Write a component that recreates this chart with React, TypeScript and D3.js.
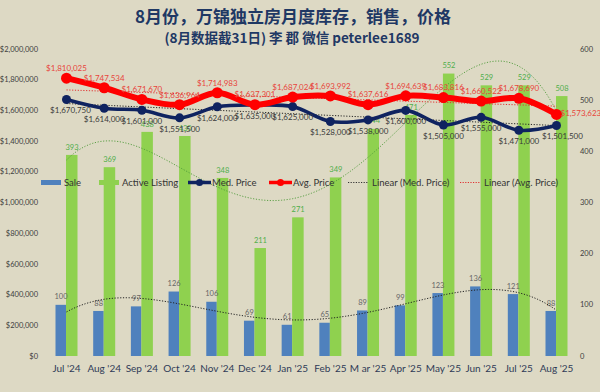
import React from "react";
import * as d3 from "d3";

const months = ["Jul '24", "Aug '24", "Sep '24", "Oct '24", "Nov '24", "Dec '24", "Jan '25", "Feb '25", "M ar '25", "Apr '25", "May '25", "Jun '25", "Jul '25", "Aug '25"];
const sales = [100, 88, 97, 126, 106, 69, 61, 65, 89, 99, 123, 136, 121, 88];
const activeListing = [393, 369, 438, 430, 348, 211, 271, 349, 444, 471, 552, 529, 529, 508];
const medPrice = [1670750, 1614000, 1601000, 1551500, 1624000, 1635000, 1625000, 1528000, 1538000, 1600000, 1505000, 1555000, 1471000, 1501500];
const avgPrice = [1810025, 1747534, 1671670, 1636964, 1714983, 1637301, 1687024, 1693992, 1637616, 1694639, 1683816, 1660522, 1678690, 1573623];
const leftTicks = [0, 200000, 400000, 600000, 800000, 1000000, 1200000, 1400000, 1600000, 1800000, 2000000];
const rightTicks = [0, 100, 200, 300, 400, 500, 600];

const W = 600, H = 392;
const BG = "#ddd9c4";
const BLUE = "#4f81bd";
const GREEN = "#8fd14f";
const NAVY = "#0f2360";
const RED = "#ff0000";
const FONT = "Lato, 'Open Sans', sans-serif";

function polyFit(ys: number[], deg: number) {
  const n = ys.length;
  const xs = ys.map((_, i) => (i - (n - 1) / 2) / ((n - 1) / 2));
  const m = deg + 1;
  const A: number[][] = Array.from({ length: m }, () => new Array(m + 1).fill(0));
  for (let r = 0; r < m; r++) {
    for (let c = 0; c < m; c++) {
      A[r][c] = xs.reduce((s, x) => s + Math.pow(x, r + c), 0);
    }
    A[r][m] = xs.reduce((s, x, i) => s + Math.pow(x, r) * ys[i], 0);
  }
  for (let i = 0; i < m; i++) {
    let p = i;
    for (let k = i + 1; k < m; k++) if (Math.abs(A[k][i]) > Math.abs(A[p][i])) p = k;
    [A[i], A[p]] = [A[p], A[i]];
    for (let k = i + 1; k < m; k++) {
      const f = A[k][i] / A[i][i];
      for (let j = i; j <= m; j++) A[k][j] -= f * A[i][j];
    }
  }
  const coef = new Array(m).fill(0);
  for (let i = m - 1; i >= 0; i--) {
    let s = A[i][m];
    for (let j = i + 1; j < m; j++) s -= A[i][j] * coef[j];
    coef[i] = s / A[i][i];
  }
  return (t: number) => {
    const x = (t - (n - 1) / 2) / ((n - 1) / 2);
    return coef.reduce((s, c, k) => s + c * Math.pow(x, k), 0);
  };
}

const fmt = (v: number) => "$" + d3.format(",")(v);

export default function App() {
  const x = d3.scalePoint<string>().domain(months).range([66.5, 556.5]);
  const yL = d3.scaleLinear().domain([0, 2000000]).range([356, 49]);
  const yR = d3.scaleLinear().domain([0, 600]).range([356, 49]);
  const bw = 11;

  const curve = d3.curveCatmullRom.alpha(0.5);
  const medLine = d3.line<number>().x((_, i) => x(months[i])!).y((d) => yL(d)).curve(curve);
  const avgLine = d3.line<number>().x((_, i) => x(months[i])!).y((d) => yL(d)).curve(curve);

  const samples = d3.range(0, months.length - 1 + 0.001, 0.1);
  const idxX = d3.scaleLinear().domain([0, months.length - 1]).range([66.5, 556.5]);
  const medLin = polyFit(medPrice, 1);
  const avgLin = polyFit(avgPrice, 1);
  const actPoly = polyFit(activeListing, 4);
  const salePoly = polyFit(sales, 4);
  const trend = (f: (t: number) => number, ys: d3.ScaleLinear<number, number>) =>
    d3.line<number>().x((t) => idxX(t)).y((t) => ys(f(t)))(samples) || "";

  const legend = [
    { kind: "rect", color: BLUE, x: 41, label: "Sale" },
    { kind: "rect", color: GREEN, x: 99, label: "Active Listing" },
    { kind: "marker", color: NAVY, x: 188, label: "Med. Price" },
    { kind: "marker", color: RED, x: 269, label: "Avg. Price" },
    { kind: "dot", color: "#333", x: 348, label: "Linear (Med. Price)" },
    { kind: "dot", color: "#e03030", x: 460, label: "Linear (Avg. Price)" },
  ];

  return (
    <svg width={W} height={H} style={{ position: "absolute", left: 0, top: 0 }} fontFamily={FONT}>
      <rect width={W} height={H} fill={BG} />
      <text x={293} y={23} textAnchor="middle" fontSize={17} fontWeight="bold" fill="#1f3864" fontFamily="'Noto Sans CJK SC', sans-serif">
        8月份，万锦独立房月度库存，销售，价格
      </text>
      <text x={292} y={43} textAnchor="middle" fontSize={13.5} fontWeight="bold" fill="#1f3864" fontFamily="'Noto Sans CJK SC', sans-serif">
        (8月数据截31日) 李 郡 微信 peterlee1689
      </text>

      {leftTicks.map((t) => (
        <text key={t} x={38} y={yL(t)} dy="0.35em" textAnchor="end" fontSize={7.5} fill="#404040">
          {fmt(t)}
        </text>
      ))}
      {rightTicks.map((t) => (
        <text key={t} x={580} y={yR(t)} dy="0.35em" textAnchor="start" fontSize={7.5} fill="#404040">
          {t}
        </text>
      ))}
      {months.map((m) => (
        <text key={m} x={x(m)!} y={372} textAnchor="middle" fontSize={10} fill="#2f3b57">
          {m}
        </text>
      ))}

      {sales.map((v, i) => (
        <rect key={"s" + i} x={x(months[i])! - bw} y={yR(v)} width={bw - 0.5} height={yR(0) - yR(v)} fill={BLUE} />
      ))}
      {activeListing.map((v, i) => (
        <rect key={"a" + i} x={x(months[i])! - 0.5} y={yR(v)} width={bw + 0.5} height={yR(0) - yR(v)} fill={GREEN} />
      ))}
      {sales.map((v, i) => (
        <text key={"sl" + i} x={x(months[i])! - bw / 2} y={yR(v) - 8} dy="0.35em" textAnchor="middle" fontSize={7.5} fill="#666">
          {v}
        </text>
      ))}
      {activeListing.map((v, i) => (
        <text key={"al" + i} x={x(months[i])! + bw / 2} y={yR(v) - 8} dy="0.35em" textAnchor="middle" fontSize={7.5} fill="#4fae4a">
          {v}
        </text>
      ))}

      <path d={trend(actPoly, yR)} fill="none" stroke="#4f9a3a" strokeWidth={0.9} strokeDasharray="1.2 1.6" />
      <path d={trend(salePoly, yR)} fill="none" stroke="#222" strokeWidth={1} strokeDasharray="1.2 1.6" />
      <path d={trend(medLin, yL)} fill="none" stroke="#222" strokeWidth={1} strokeDasharray="1.2 1.6" />
      <path d={trend(avgLin, yL)} fill="none" stroke="#e03030" strokeWidth={1} strokeDasharray="1.2 1.6" />

      <path d={medLine(medPrice) || ""} fill="none" stroke={NAVY} strokeWidth={3.6} />
      {medPrice.map((v, i) => (
        <circle key={"mc" + i} cx={x(months[i])!} cy={yL(v)} r={4.5} fill={NAVY} />
      ))}
      <path d={avgLine(avgPrice) || ""} fill="none" stroke={RED} strokeWidth={6} />
      {avgPrice.map((v, i) => (
        <circle key={"ac" + i} cx={x(months[i])!} cy={yL(v)} r={5.5} fill={RED} />
      ))}

      {medPrice.map((v, i) => (
        <text key={"ml" + i} x={x(months[i])! + (i === 0 ? 4 : i === months.length - 1 ? 6 : 0)} y={yL(v) + 11} dy="0.35em" textAnchor="middle" fontSize={8} fill="#3a3a3a">
          {fmt(v)}
        </text>
      ))}
      {avgPrice.map((v, i) => {
        const last = i === months.length - 1;
        return (
          <text key={"avl" + i} x={x(months[i])! + (last ? 4 : 0)} y={last ? yL(v) - 1 : yL(v) - 10} dy="0.35em" textAnchor={last ? "start" : "middle"} fontSize={8} fill="#e8453c">
            {fmt(v)}
          </text>
        );
      })}

      {legend.map((l) => (
        <g key={l.label}>
          {l.kind === "rect" && <rect x={l.x} y={180} width={20} height={5} fill={l.color} />}
          {l.kind === "marker" && (
            <g>
              <line x1={l.x} x2={l.x + 23} y1={182.5} y2={182.5} stroke={l.color} strokeWidth={3.5} />
              <circle cx={l.x + 11.5} cy={182.5} r={3.5} fill={l.color} />
            </g>
          )}
          {l.kind === "dot" && <line x1={l.x} x2={l.x + 20} y1={182.5} y2={182.5} stroke={l.color} strokeWidth={1} strokeDasharray="1.2 1.4" />}
          <text x={l.x + (l.kind === "marker" ? 24 : l.kind === "dot" ? 24 : 23)} y={182.5} dy="0.35em" fontSize={9.5} fill="#333">
            {l.label}
          </text>
        </g>
      ))}
    </svg>
  );
}
